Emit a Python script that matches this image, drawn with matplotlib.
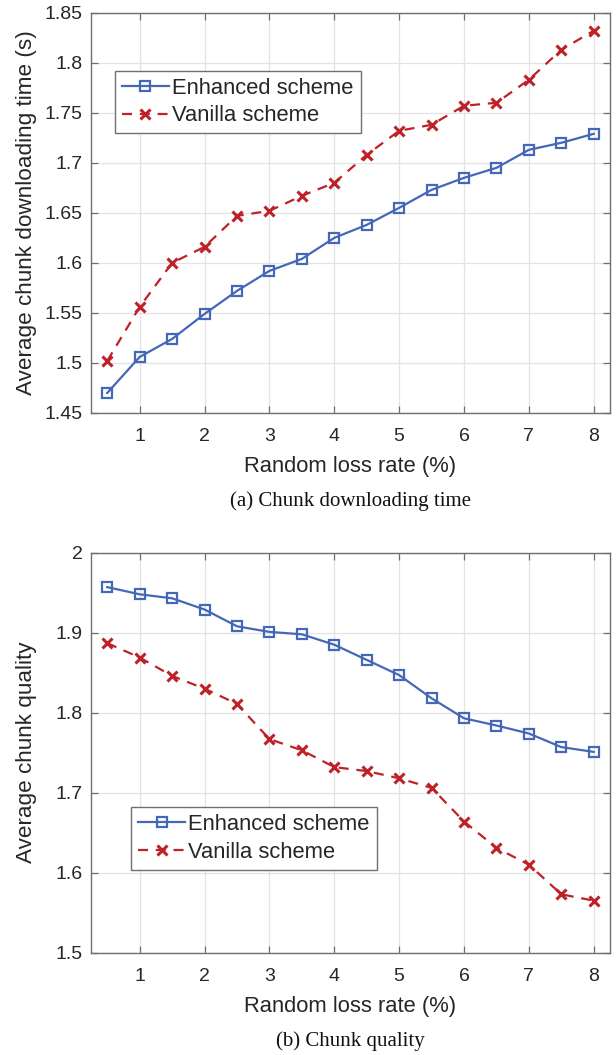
import matplotlib
matplotlib.use("Agg")
import matplotlib.pyplot as plt

plt.rcParams['font.family'] = ['Liberation Sans', 'DejaVu Sans']

loss_rate = [0.5, 1, 1.5, 2, 2.5, 3, 3.5, 4, 4.5, 5, 5.5, 6, 6.5, 7, 7.5, 8]

time_enhanced = [1.470, 1.506, 1.524, 1.549, 1.572, 1.592, 1.604, 1.625,
                 1.638, 1.655, 1.673, 1.685, 1.695, 1.713, 1.720, 1.729]
time_vanilla = [1.502, 1.556, 1.600, 1.616, 1.647, 1.652, 1.667, 1.680,
                1.708, 1.732, 1.738, 1.757, 1.760, 1.783, 1.813, 1.832]

quality_enhanced = [1.957, 1.948, 1.943, 1.929, 1.908, 1.901, 1.898, 1.885,
                    1.866, 1.847, 1.818, 1.793, 1.784, 1.774, 1.757, 1.751]
quality_vanilla = [1.887, 1.869, 1.846, 1.830, 1.811, 1.767, 1.753, 1.732,
                   1.727, 1.718, 1.706, 1.664, 1.631, 1.610, 1.573, 1.565]

x_ticks = [1, 2, 3, 4, 5, 6, 7, 8]
time_ticks = [1.45, 1.5, 1.55, 1.6, 1.65, 1.7, 1.75, 1.8, 1.85]
time_ticklabels = ['1.45', '1.5', '1.55', '1.6', '1.65', '1.7', '1.75', '1.8', '1.85']
quality_ticks = [1.5, 1.6, 1.7, 1.8, 1.9, 2.0]
quality_ticklabels = ['1.5', '1.6', '1.7', '1.8', '1.9', '2']

BLUE = '#4467b8'
RED = '#be2128'
SPINE = '#6e6e6e'
TEXT = '#262626'

W, H = 616, 1055
fig = plt.figure(figsize=(W / 100, H / 100), dpi=100)


def px_axes(left, top, right, bottom):
    return fig.add_axes([left / W, 1 - bottom / H, (right - left) / W, (bottom - top) / H])


def style(ax, enh, van, ylim, yticks, yticklabels, ylabel, legend_anchor):
    ax.plot(loss_rate, enh, color=BLUE, lw=1.6, marker='s', ms=7.5,
            mfc='none', mec=BLUE, mew=1.6, label='Enhanced scheme', zorder=3)
    ax.plot(loss_rate, van, color=RED, lw=1.6, ls=(0, (4.5, 3.5)), marker='x',
            ms=7, mec=RED, mew=2.2, label='Vanilla scheme', zorder=3)
    ax.set_xlim(0.25, 8.25)
    ax.set_ylim(*ylim)
    ax.set_xticks(x_ticks)
    ax.set_yticks(yticks)
    ax.set_yticklabels(yticklabels)
    ax.grid(True, color='#e3e3e3', lw=0.9)
    ax.set_axisbelow(True)
    for s in ax.spines.values():
        s.set_color(SPINE)
        s.set_linewidth(1.0)
    ax.tick_params(direction='in', length=5, width=0.9, color=SPINE,
                   top=True, right=True, labelsize=14, labelcolor=TEXT, pad=6)
    ax.tick_params(axis='x', pad=11)
    ax.set_xlabel('Random loss rate (%)', fontsize=15.8, color=TEXT, labelpad=8)
    ax.set_ylabel(ylabel, fontsize=16.2, color=TEXT, va='center')
    ax.yaxis.set_label_coords((27 - 91) / 519, 0.5)
    leg = ax.legend(loc='upper left', bbox_to_anchor=legend_anchor,
                    borderaxespad=0, fontsize=15.8, handlelength=2.15,
                    handletextpad=0.15, labelspacing=0.3, borderpad=0.32,
                    fancybox=False, framealpha=1, edgecolor='#707070')
    leg.get_frame().set_linewidth(1.0)
    for t in leg.get_texts():
        t.set_color(TEXT)


ax1 = px_axes(91, 12.7, 610, 413)
style(ax1, time_enhanced, time_vanilla, (1.45, 1.85), time_ticks, time_ticklabels,
      'Average chunk downloading time (s)', (0.046, 0.855))

ax2 = px_axes(91, 552.7, 610, 952.7)
style(ax2, quality_enhanced, quality_vanilla, (1.5, 2.0), quality_ticks,
      quality_ticklabels, 'Average chunk quality', (0.077, 0.364))

fig.text((91 + 610) / 2 / W, 1 - 501 / H, '(a) Chunk downloading time',
         ha='center', va='center', fontsize=15,
         family=['Liberation Serif', 'DejaVu Serif'], color='#111111')
fig.text((91 + 610) / 2 / W, 1 - 1041 / H, '(b) Chunk quality',
         ha='center', va='center', fontsize=15,
         family=['Liberation Serif', 'DejaVu Serif'], color='#111111')

fig.savefig('out.png', dpi=100)
